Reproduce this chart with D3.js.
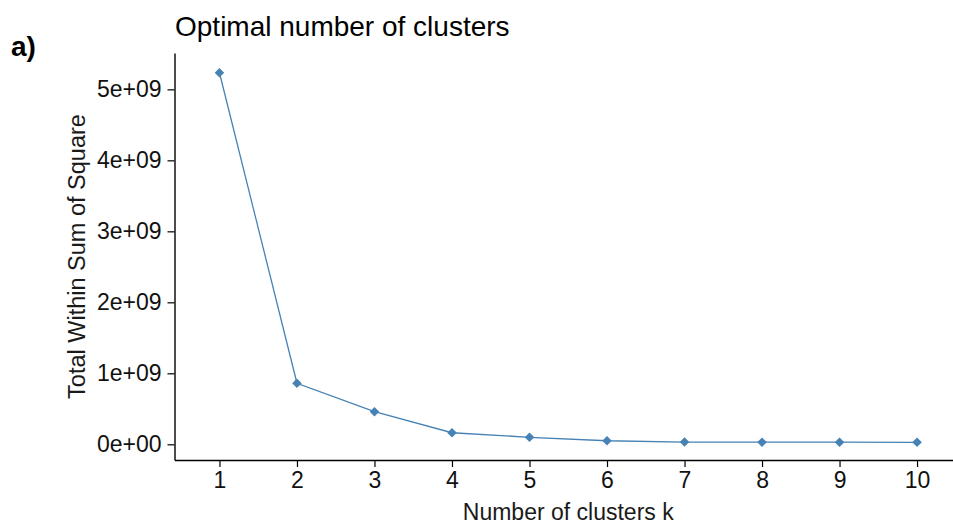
<!DOCTYPE html>
<html>
<head>
<meta charset="utf-8">
<script src="https://cdn.jsdelivr.net/npm/d3@7"></script>
<style>
  html, body { margin: 0; padding: 0; background: #fff; }
  text { font-family: "Liberation Sans", Arial, sans-serif; }
</style>
</head>
<body>
<svg id="chart" width="953" height="525"></svg>
<script>
const clusters = [1, 2, 3, 4, 5, 6, 7, 8, 9, 10];
const wss = [5.234e9, 0.86e9, 0.46e9, 0.163e9, 0.099e9, 0.05e9, 0.032e9, 0.03e9, 0.03e9, 0.028e9];
const yTicks = [0, 1e9, 2e9, 3e9, 4e9, 5e9];
const yTickLabels = ["0e+00", "1e+09", "2e+09", "3e+09", "4e+09", "5e+09"];
const titleText = "Optimal number of clusters";
const xTitle = "Number of clusters k";
const yTitle = "Total Within Sum of Square";
const panelLabel = "a)";

const svg = d3.select("#chart");
const mLeft = 174.5, mRight = 962, mTop = 53, mBottom = 460;

const x = d3.scaleLinear().domain([0.42, 10.58]).range([mLeft, mRight]);
const y = d3.scaleLinear().domain([-0.221e9, 5.512e9]).range([mBottom, mTop]);

const lineColor = "#4682B4";

// axes
const xAxis = d3.axisBottom(x).tickValues(clusters).tickSizeInner(7).tickSizeOuter(0).tickPadding(5)
  .tickFormat(d3.format("d"));
const yAxis = d3.axisLeft(y).tickValues(yTicks).tickSizeInner(7).tickSizeOuter(0).tickPadding(6)
  .tickFormat((d, i) => yTickLabels[i]);

const gx = svg.append("g").attr("transform", `translate(0,${mBottom})`).call(xAxis);
const gy = svg.append("g").attr("transform", `translate(${mLeft},0)`).call(yAxis);
[gx, gy].forEach(g => {
  g.select(".domain").attr("stroke", "#000").attr("stroke-width", 1.4);
  g.selectAll(".tick line").attr("stroke", "#000").attr("stroke-width", 1.2);
  g.selectAll(".tick text").attr("fill", "#111").style("font-size", "23px")
    .style("font-family", '"Liberation Sans", Arial, sans-serif');
});

// line
const line = d3.line().x((d, i) => x(clusters[i])).y(d => y(d));
svg.append("path").datum(wss).attr("d", line)
  .attr("fill", "none").attr("stroke", lineColor).attr("stroke-width", 1.3);

// diamond points
const diamond = d3.symbol().type(d3.symbolDiamond2).size(58);
svg.selectAll(".pt").data(wss).enter().append("path")
  .attr("class", "pt")
  .attr("d", diamond)
  .attr("transform", (d, i) => `translate(${x(clusters[i])},${y(d)})`)
  .attr("fill", lineColor);

// title
svg.append("text").attr("x", 175).attr("y", 36).text(titleText)
  .attr("fill", "#000").style("font-size", "28px");

// axis titles
svg.append("text").attr("x", (mLeft + mRight) / 2).attr("y", 520)
  .attr("text-anchor", "middle").attr("fill", "#1a1a1a").style("font-size", "23px").text(xTitle);
svg.append("text").attr("transform", `translate(85,${(mTop + mBottom) / 2}) rotate(-90)`)
  .attr("text-anchor", "middle").attr("fill", "#1a1a1a").style("font-size", "23.5px").text(yTitle);

// panel label
svg.append("text").attr("x", 11).attr("y", 56).text(panelLabel)
  .attr("fill", "#000").style("font-size", "28px").style("font-weight", "bold");
</script>
</body>
</html>
